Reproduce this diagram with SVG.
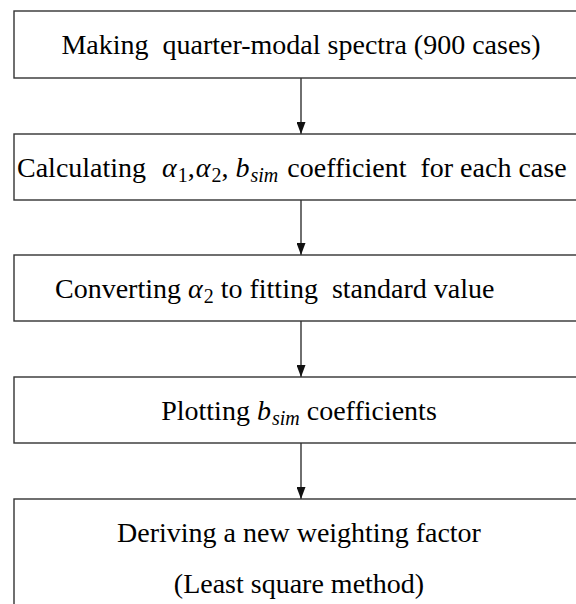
<svg xmlns="http://www.w3.org/2000/svg" width="576" height="604" viewBox="0 0 576 604">
  <defs>
    <marker id="arrow" viewBox="0 0 12 9" refX="12" refY="4.5" markerWidth="12" markerHeight="9" markerUnits="userSpaceOnUse" orient="auto">
      <path d="M0,0 L12,4.5 L0,9 Z" fill="#111111"/>
    </marker>
  </defs>
  <rect width="576" height="604" fill="#ffffff"/>

  <!-- vertical flow arrows between steps -->
  <g id="connectors" stroke="#333333" stroke-width="1.4" fill="none">
    <line x1="301" y1="78" x2="301" y2="134" marker-end="url(#arrow)"/>
    <line x1="301" y1="200" x2="301" y2="255" marker-end="url(#arrow)"/>
    <line x1="301" y1="321" x2="301" y2="377" marker-end="url(#arrow)"/>
    <line x1="301" y1="443" x2="301" y2="499" marker-end="url(#arrow)"/>
  </g>

  <g id="node-spectra">
    <rect x="14" y="11" width="580" height="67" fill="#ffffff" stroke="#333333" stroke-width="1.4"/>
    <text x="301" y="54" font-family="Liberation Serif" font-size="28" text-anchor="middle" xml:space="preserve">Making  quarter-modal spectra (900 cases)</text>
  </g>

  <g id="node-coefficients">
    <rect x="14" y="134" width="580" height="66" fill="#ffffff" stroke="#333333" stroke-width="1.4"/>
    <text x="17" y="177" font-family="Liberation Serif" font-size="28" xml:space="preserve">Calculating  <tspan font-style="italic" dx="2">α</tspan><tspan font-size="20" dy="5" dx="1">1</tspan><tspan dy="-5">,</tspan><tspan font-style="italic" dx="1">α</tspan><tspan font-size="20" dy="5" dx="1">2</tspan><tspan dy="-5">, </tspan><tspan font-style="italic">b</tspan><tspan font-size="20" font-style="italic" dy="5" dx="1">sim</tspan><tspan dy="-5" dx="2"> coefficient  for each case</tspan></text>
  </g>

  <g id="node-convert">
    <rect x="14" y="255" width="580" height="66" fill="#ffffff" stroke="#333333" stroke-width="1.4"/>
    <text x="55" y="298" font-family="Liberation Serif" font-size="28" xml:space="preserve">Converting <tspan font-style="italic">α</tspan><tspan font-size="20" dy="5" dx="1">2</tspan><tspan dy="-5"> to fitting  standard value</tspan></text>
  </g>

  <g id="node-plot">
    <rect x="14" y="377" width="580" height="66" fill="#ffffff" stroke="#333333" stroke-width="1.4"/>
    <text x="299" y="420" font-family="Liberation Serif" font-size="28" text-anchor="middle">Plotting <tspan font-style="italic">b</tspan><tspan font-size="20" font-style="italic" dy="5" dx="1">sim</tspan><tspan dy="-5"> coefficients</tspan></text>
  </g>

  <g id="node-derive">
    <rect x="14" y="499" width="580" height="130" fill="#ffffff" stroke="#333333" stroke-width="1.4"/>
    <text x="299" y="542" font-family="Liberation Serif" font-size="28" text-anchor="middle">Deriving a new weighting factor</text>
    <text x="299" y="593" font-family="Liberation Serif" font-size="28" text-anchor="middle">(Least square method)</text>
  </g>
</svg>
